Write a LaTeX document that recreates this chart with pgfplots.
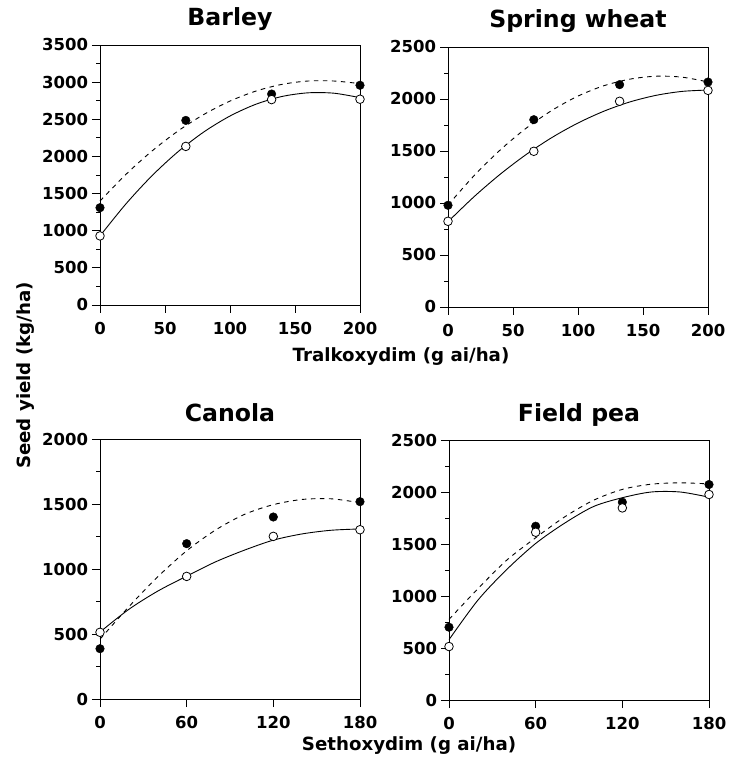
\documentclass[border=0pt]{standalone}
\usepackage{fontspec}
\setmainfont{DejaVu Sans}
\usepackage{pgfplots}
\pgfplotsset{compat=1.18}

\pgfplotsset{
  panel/.style={
    width=260pt, height=260pt, scale only axis,
    axis line style={line width=0.8pt},
    every tick/.style={black, line width=0.8pt},
    tick align=outside,
    major tick length=8pt, minor tick length=4pt,
    minor y tick num=1,
    xtick pos=bottom, ytick pos=left,
    clip=false,
    scaled ticks=false,
    xticklabel style={font=\bfseries\fontsize{16.5}{16.5}\selectfont, anchor=north, inner sep=0pt, yshift=-8.7pt},
    yticklabel style={font=\bfseries\fontsize{16.5}{16.5}\selectfont, anchor=east, inner sep=0pt, xshift=-3.7pt},
    title style={font=\bfseries\fontsize{23.6}{24}\selectfont, at={(0.5,1)}, anchor=base},
  },
  solidfit/.style={black, line width=0.9pt, smooth, no markers},
  dashfit/.style={black, line width=0.9pt, dash pattern=on 4.5pt off 4.5pt, smooth, no markers},
  filledpt/.style={only marks, mark=*, mark size=4.3pt, mark options={solid, fill=black, draw=black}},
  openpt/.style={only marks, mark=*, mark size=4.3pt, mark options={solid, fill=white, draw=black, line width=0.8pt}},
}

\begin{document}
\begin{tikzpicture}
\useasboundingbox (0pt,0pt) rectangle (730pt,759pt);

% Barley
\begin{axis}[panel, at={(100pt,454pt)}, anchor=south west,
  xmin=0, xmax=200, ymin=0, ymax=3500,
  xtick={0,50,100,150,200}, xticklabels={0,50,100,150,200},
  ytick={0,500,1000,1500,2000,2500,3000,3500},
  yticklabels={0,500,1000,1500,2000,2500,3000,3500},
  title={Barley}, title style={yshift=13pt}]
\addplot[solidfit] coordinates {(0,930) (20,1362) (40,1740) (60,2063) (80,2331) (100,2544) (120,2703) (140,2807) (160,2856) (180,2851) (200,2791)};
\addplot[dashfit] coordinates {(0,1400) (20,1759) (40,2073) (60,2342) (80,2566) (100,2745) (120,2880) (140,2970) (160,3015) (180,3015) (200,2980)};
\addplot[filledpt] coordinates {(0,1310) (66,2485) (132,2840) (200,2958)};
\addplot[openpt] coordinates {(0,930) (66,2135) (132,2765) (200,2770)};
\end{axis}

% Spring wheat
\begin{axis}[panel, at={(448pt,452pt)}, anchor=south west,
  xmin=0, xmax=200, ymin=0, ymax=2500,
  xtick={0,50,100,150,200}, xticklabels={0,50,100,150,200},
  ytick={0,500,1000,1500,2000,2500},
  yticklabels={0,500,1000,1500,2000,2500},
  title={Spring wheat}, title style={yshift=13.4pt}]
\addplot[solidfit] coordinates {(0,820) (20,1060) (40,1275) (60,1465) (80,1630) (100,1769) (120,1883) (140,1972) (160,2035) (180,2073) (200,2086)};
\addplot[dashfit] coordinates {(0,980) (20,1262) (40,1508) (60,1718) (80,1891) (100,2028) (120,2128) (140,2191) (160,2219) (180,2210) (200,2164)};
\addplot[filledpt] coordinates {(0,978) (66,1801) (132,2138) (200,2163)};
\addplot[openpt] coordinates {(0,824) (66,1497) (132,1978) (200,2083)};
\end{axis}

% Canola
\begin{axis}[panel, at={(100pt,60pt)}, anchor=south west,
  xmin=0, xmax=180, ymin=0, ymax=2000,
  xtick={0,60,120,180}, xticklabels={0,60,120,180},
  ytick={0,500,1000,1500,2000},
  yticklabels={0,500,1000,1500,2000},
  title={Canola}, title style={yshift=11pt}]
\addplot[solidfit] coordinates {(0,515) (20,690) (40,830) (60,945) (80,1055) (100,1145) (120,1222) (140,1270) (160,1298) (180,1308)};
\addplot[dashfit] coordinates {(0,460) (20,710) (40,940) (60,1140) (80,1300) (100,1420) (120,1495) (140,1535) (160,1540) (180,1510)};
\addplot[filledpt] coordinates {(0,387) (60,1195) (120,1400) (180,1518)};
\addplot[openpt] coordinates {(0,513) (60,943) (120,1251) (180,1302)};
\end{axis}

% Field pea
\begin{axis}[panel, at={(449pt,59pt)}, anchor=south west,
  xmin=0, xmax=180, ymin=0, ymax=2500,
  xtick={0,60,120,180}, xticklabels={0,60,120,180},
  ytick={0,500,1000,1500,2000,2500},
  yticklabels={0,500,1000,1500,2000,2500},
  title={Field pea}, title style={yshift=12.4pt}]
\addplot[solidfit] coordinates {(0,580) (20,960) (40,1255) (60,1505) (80,1700) (100,1860) (120,1945) (140,2000) (160,2000) (180,1950)};
\addplot[dashfit] coordinates {(0,775) (20,1070) (40,1345) (60,1560) (80,1760) (100,1920) (120,2025) (140,2075) (160,2088) (180,2078)};
\addplot[filledpt] coordinates {(0,700) (60,1671) (120,1902) (180,2072)};
\addplot[openpt] coordinates {(0,514) (60,1613) (120,1847) (180,1976)};
\end{axis}

\node[font=\bfseries\fontsize{18.2}{19}\selectfont, anchor=base] at (401pt,397.3pt) {Tralkoxydim (g ai/ha)};
\node[font=\bfseries\fontsize{18.2}{19}\selectfont, anchor=base] at (409pt,9pt) {Sethoxydim (g ai/ha)};
\node[font=\bfseries\fontsize{18.2}{19}\selectfont, anchor=base, rotate=90] at (31pt,383.5pt) {Seed yield (kg/ha)};
\end{tikzpicture}
\end{document}
